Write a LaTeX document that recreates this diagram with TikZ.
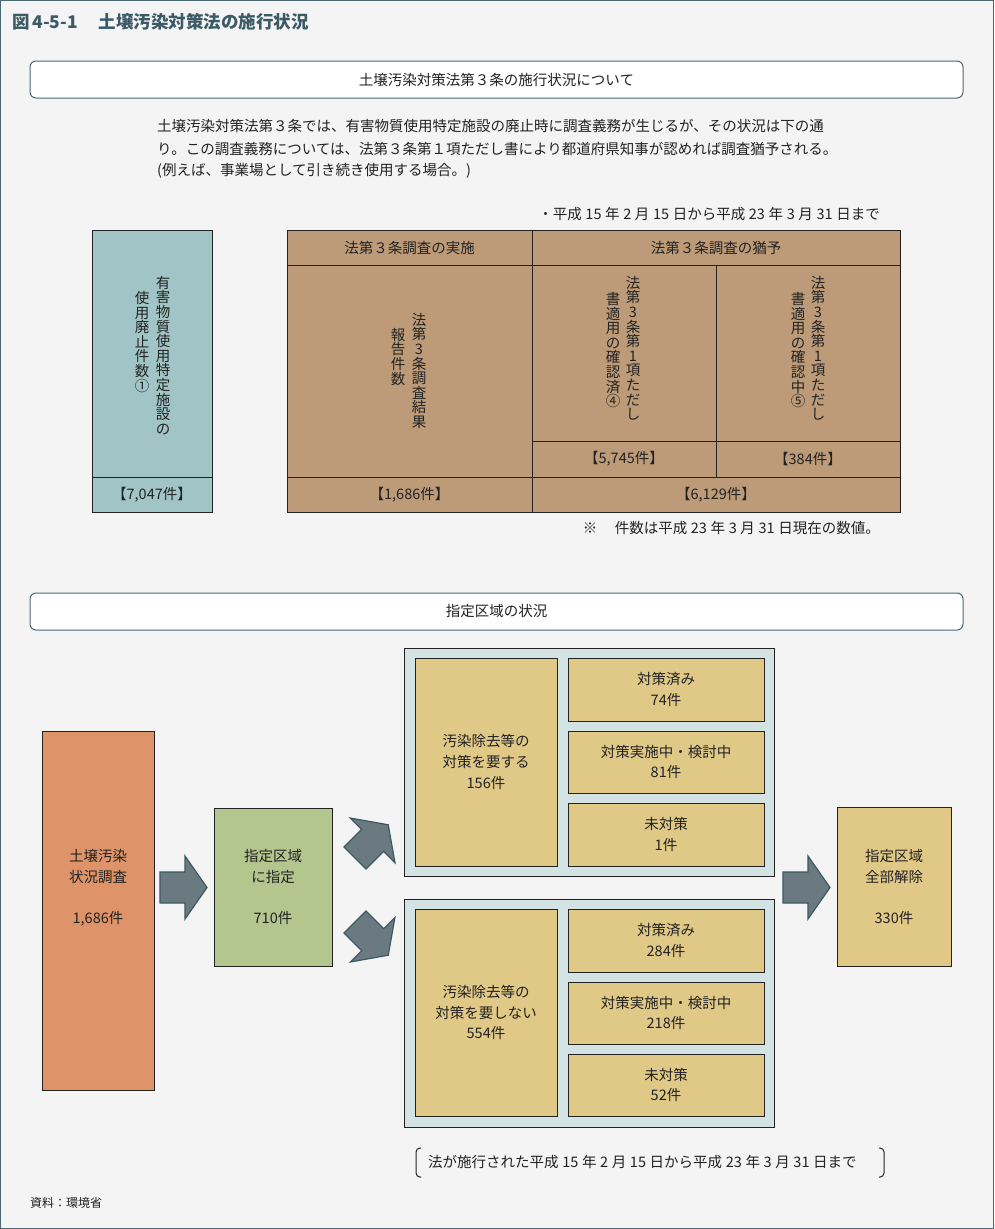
\documentclass[tikz,border=0pt]{standalone}
\usepackage{fontspec}
\setmainfont{Noto Sans CJK JP}
\usepackage{xcolor}
\definecolor{Frame}{HTML}{4A6873}
\definecolor{Bg}{HTML}{F4F4F4}
\definecolor{Title}{HTML}{3B5A66}
\definecolor{Teal}{HTML}{A1C5C6}
\definecolor{Tan}{HTML}{BD9B78}
\definecolor{Orange}{HTML}{DE9468}
\definecolor{Green}{HTML}{B2C68E}
\definecolor{Khaki}{HTML}{E0C987}
\definecolor{Pale}{HTML}{D3E3E3}
\definecolor{ArrowFill}{HTML}{6B7A80}
\definecolor{ArrowLine}{HTML}{3A5A62}
\definecolor{Ink}{HTML}{222222}
\usepackage{tikz}
\newcommand\Ksp{\hspace{.25em}}
\newcommand\Tate[1]{\vbox{\baselineskip=14.6pt\lineskiplimit=-20pt\TateLoop#1\relax}}
\def\TateLoop#1{\ifx\relax#1\else\hbox to 1em{\hss#1\hss}\expandafter\TateLoop\fi}
\tikzstyle{Cell}=[rectangle,draw=Ink,line width=1pt,inner sep=0pt,outer sep=0pt,
font=\fontsize{14.5}{20.7}\selectfont,align=center,text=Ink]
\tikzstyle{Head}=[rectangle,rounded corners=6pt,draw=Frame,fill=white,line width=1pt,
minimum width=933,minimum height=37,font=\fontsize{14.5}{17}\selectfont,text=Ink]
\tikzstyle{Col}=[anchor=north,inner sep=0pt,font=\fontsize{14.5}{14.6}\selectfont,text=Ink]
\tikzstyle{Txt}=[anchor=west,inner sep=0pt,font=\fontsize{14.5}{17}\selectfont,text=Ink]
\tikzstyle{Fat}=[fill=ArrowFill,draw=ArrowLine,line width=1.2pt,line join=miter]
\tikzset{pics/fatarrow/.style={code={
  \path[Fat](0,-15.5)--(25,-15.5)--(25,-31.5)--(47,0)--(25,31.5)--(25,15.5)--(0,15.5)--cycle;}}}

\begin{document}
\begin{tikzpicture}[x=1pt,y=-1pt]
        \useasboundingbox(0,0)rectangle(994,1229);
        \path[fill=Bg,draw=Frame,line width=1pt](0.5,0.5)rectangle(993.5,1228.5);
        \node[anchor=west,inner sep=0pt,text=Title,
            font=\fontsize{17.5}{20}\selectfont\bfseries](title)at(12,22)
            {図\,4-5-1\hspace{1.2em}土壌汚染対策法の施行状況};
        % Article 3
        \node[Head](hdrA)at(496.5,79.5){土壌汚染対策法第３条の施行状況について};
        \node[Txt](pA)at(157,126){土壌汚染対策法第３条では、有害物質使用特定施設の廃止時に調査義務が生じるが、その状況は下の通};
        \node[Txt](pB)at(157,149){り。この調査義務については、法第３条第１項ただし書により都道府県知事が認めれば調査猶予される。};
        \node[Txt](pC)at(157,171){(例えば、事業場として引き続き使用する場合。)};
        \node[Txt,anchor=east](span)at(880,214)
            {・平成\Ksp{}15\Ksp{}年\Ksp{}2\Ksp{}月\Ksp{}15\Ksp{}日から平成\Ksp{}23\Ksp{}年\Ksp{}3\Ksp{}月\Ksp{}31\Ksp{}日まで};
        \node[Cell,fill=Teal,minimum width=120,minimum height=247](useA)at(152,353.5){};
        \node[Cell,fill=Teal,minimum width=120,minimum height=35](useN)at(152,494.5){【7,047件】};
        \node[Cell,fill=Tan,minimum width=245,minimum height=35](doH)at(409.5,247.5){法第３条調査の実施};
        \node[Cell,fill=Tan,minimum width=368,minimum height=35](defH)at(716,247.5){法第３条調査の猶予};
        \node[Cell,fill=Tan,minimum width=245,minimum height=212](doA)at(409.5,371){};
        \node[Cell,fill=Tan,minimum width=184,minimum height=176](okA)at(624,353){};
        \node[Cell,fill=Tan,minimum width=184,minimum height=176](chkA)at(808,353){};
        \node[Cell,fill=Tan,minimum width=184,minimum height=36](okN)at(624,459){【5,745件】};
        \node[Cell,fill=Tan,minimum width=184,minimum height=36](chkN)at(808,459){【384件】};
        \node[Cell,fill=Tan,minimum width=245,minimum height=35](doN)at(409.5,494.5){【1,686件】};
        \node[Cell,fill=Tan,minimum width=368,minimum height=35](defN)at(716,494.5){【6,129件】};
        \node[Col](useR)at(163,276){\Tate{有害物質使用特定施設の}};
        \node[Col](useL)at(142,291){\Tate{使用廃止件数①}};
        \node[Col](doR)at(419,313){\Tate{法第3条調査結果}};
        \node[Col](doL)at(398,328){\Tate{報告件数}};
        \node[Col](okR)at(633,276){\Tate{法第3条第1項ただし}};
        \node[Col](okL)at(613,292){\Tate{書適用の確認済④}};
        \node[Col](chkR)at(818,276){\Tate{法第3条第1項ただし}};
        \node[Col](chkL)at(798,292){\Tate{書適用の確認中⑤}};
        \node[Txt,anchor=east](note)at(880,528)
            {※\hspace{1.2em}件数は平成\Ksp{}23\Ksp{}年\Ksp{}3\Ksp{}月\Ksp{}31\Ksp{}日現在の数値。};
        % designated areas
        \node[Head](hdrB)at(496.5,611.5){指定区域の状況};
        \node[Cell,fill=Orange,minimum width=112,minimum height=359](survey)at(98,910.5){};
        \node[Cell,draw=none](surveyT)at(98,888){土壌汚染\\状況調査\\[20.7pt]1,686件};
        \node[Cell,fill=Green,minimum width=118,minimum height=158](desig)at(273,887)
            {指定区域\\に指定\\[20.7pt]710件};
        \node[Cell,fill=Pale,minimum width=370,minimum height=228](needC)at(589,762){};
        \node[Cell,fill=Khaki,minimum width=142,minimum height=208](need)at(486,762)
            {汚染除去等の\\対策を要する\\156件};
        \node[Cell,fill=Khaki,minimum width=196,minimum height=63](needA)at(666,689.5)
            {対策済み\\74件};
        \node[Cell,fill=Khaki,minimum width=196,minimum height=62](needB)at(666,762)
            {対策実施中・検討中\\81件};
        \node[Cell,fill=Khaki,minimum width=196,minimum height=63](needC3)at(666,834.5)
            {未対策\\1件};
        \node[Cell,fill=Pale,minimum width=370,minimum height=228](freeC)at(589,1013){};
        \node[Cell,fill=Khaki,minimum width=142,minimum height=207](free)at(486,1012.5)
            {汚染除去等の\\対策を要しない\\554件};
        \node[Cell,fill=Khaki,minimum width=196,minimum height=63](freeA)at(666,940.5)
            {対策済み\\284件};
        \node[Cell,fill=Khaki,minimum width=196,minimum height=62](freeB)at(666,1013)
            {対策実施中・検討中\\218件};
        \node[Cell,fill=Khaki,minimum width=196,minimum height=62](freeC3)at(666,1085)
            {未対策\\52件};
        \node[Cell,fill=Khaki,minimum width=114,minimum height=159](release)at(894,887)
            {指定区域\\全部解除\\[20.7pt]330件};
        \pic at(160,887.5){fatarrow};
        \pic[rotate=45] at(355,858){fatarrow};
        \pic[rotate=-45] at(355,922){fatarrow};
        \pic at(783,887.5){fatarrow};
        \node[Txt](law)at(428,1162)
            {法が施行された平成\Ksp{}15\Ksp{}年\Ksp{}2\Ksp{}月\Ksp{}15\Ksp{}日から平成\Ksp{}23\Ksp{}年\Ksp{}3\Ksp{}月\Ksp{}31\Ksp{}日まで};
        \draw[Ink,line width=1pt,rounded corners=4pt](421,1148)--(416,1148)--(416,1177)--(421,1177);
        \draw[Ink,line width=1pt,rounded corners=4pt](879,1148)--(884,1148)--(884,1177)--(879,1177);
        \node[Txt,font=\fontsize{12}{14}\selectfont](src)at(30,1203){資料：環境省};
    \end{tikzpicture}
\end{document}
